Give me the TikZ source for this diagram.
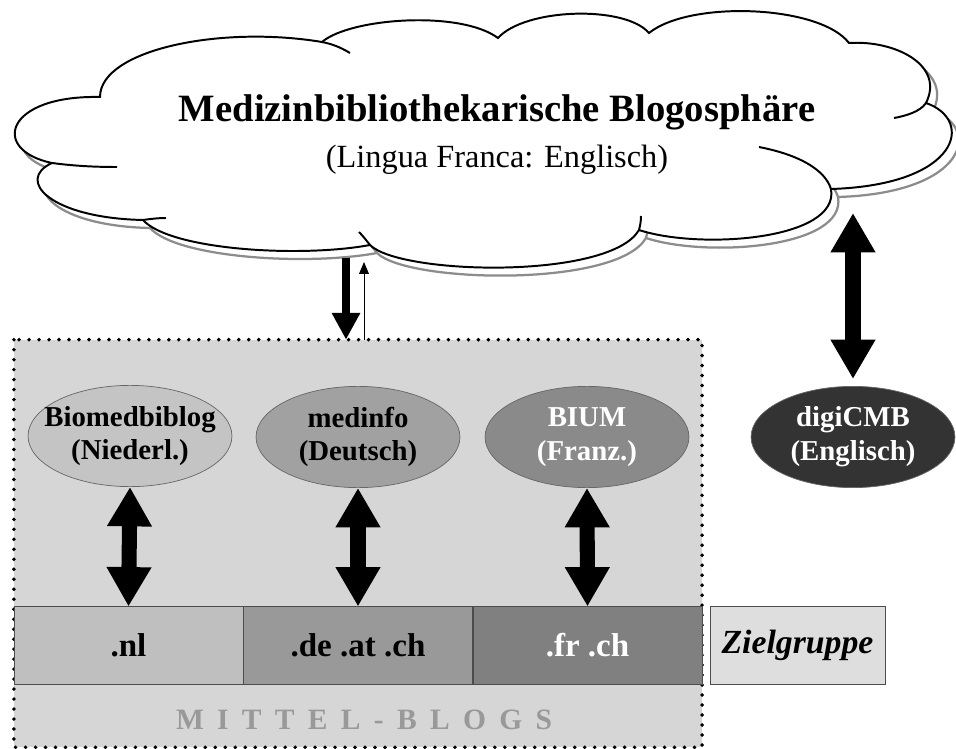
\documentclass[tikz,border=0pt]{standalone}
\usepackage{fontspec}
\setmainfont{Liberation Serif}
\usetikzlibrary{shapes.geometric, arrows.meta, positioning}

% outline of the cloud (px coordinates)
\def\cloudouter{(100,97) .. controls (100,50) and (220,25) .. (322,42)
  .. controls (350,18) and (460,10) .. (498,38)
  .. controls (525,8) and (625,5) .. (649,33)
  .. controls (690,0) and (820,5) .. (849,43)
  .. controls (895,40) and (945,65) .. (926,103)
  .. controls (975,120) and (960,185) .. (831,189)
  .. controls (840,240) and (700,250) .. (639,230)
  .. controls (610,280) and (400,275) .. (370,245)
  .. controls (300,258) and (170,250) .. (143,220)
  .. controls (50,218) and (15,180) .. (52,163)
  .. controls (-10,150) and (5,95) .. (100,97) -- cycle}
\def\cloudtails{(322,42) .. controls (332,44) and (340,47) .. (350,53)
  (926,103) .. controls (920,112) and (905,116) .. (894,118)
  (759,147) .. controls (800,155) and (825,170) .. (831,189)
  (641,216) .. controls (641,222) and (640,226) .. (639,230)
  (370,245) .. controls (366,240) and (363,236) .. (359,232)
  (143,220) .. controls (150,219) and (158,218) .. (166,218)
  (52,163) .. controls (75,166) and (95,167) .. (117,167)}

\tikzset{
  blog/.style={ellipse, draw=black!60, line width=0.5pt, minimum width=145pt, minimum height=72pt,
    inner xsep=-10pt, inner ysep=0pt, align=center, font=\fontsize{20.5}{24}\selectfont\bfseries},
  tld/.style={rectangle, draw=black!70, line width=0.5pt, minimum width=163pt, minimum height=55pt,
    inner sep=0pt, font=\fontsize{23.5}{28}\selectfont\bfseries},
  bigarrow/.style={line width=10.7pt, {Triangle[width=30pt,length=28pt]}-{Triangle[width=30pt,length=28pt]}},
}

\begin{document}
\begin{tikzpicture}[x=0.025cm, y=-0.025cm]
\useasboundingbox (0,0) rectangle (956,749);

% Blogosphere cloud with shadow
\begin{scope}[shift={(7,8)}, draw=black!45, line width=1.6pt]
  \draw \cloudouter;
  \draw \cloudtails;
\end{scope}
\filldraw[fill=white, line width=1.4pt] \cloudouter;
\draw[line width=1.4pt] \cloudtails;
\node[font=\fontsize{27.5}{32}\selectfont\bfseries] (title) at (497,112) {Medizinbibliothekarische Blogosphäre};
\node[font=\fontsize{23}{27}\selectfont] (lingua) at (497,160) {(Lingua Franca: Englisch)};

% Mittel-Blogs area
\node[rectangle, fill=black!16, minimum width=489pt, minimum height=289.5pt, inner sep=0pt] (mittel) at (358,543.5) {};
\draw[line width=2.8pt, line cap=round, dash pattern=on 0pt off 7.1pt]
  (mittel.north west) rectangle (mittel.south east);

% Blogs
\node[blog, fill=black!23] (bio) at (130,436) {Biomedbiblog\\(Niederl.)};
\node[blog, fill=black!37] (medinfo) at (358,437) {medinfo\\(Deutsch)};
\node[blog, fill=black!46, text=white] (bium) at (587,437) {BIUM\\(Franz.)};
\node[blog, fill=black!80, text=white] (digi) at (853,437) {digiCMB\\(Englisch)};

% Target groups
\node[tld, fill=black!25] (nl) at (128.5,645.5) {.nl};
\node[tld, fill=black!40] (de) at (358,645.5) {.de .at .ch};
\node[tld, fill=black!50, text=white] (fr) at (587.5,645.5) {.fr .ch};
\node[tld, fill=black!13, minimum width=124.5pt, font=\fontsize{24}{28}\selectfont\bfseries\itshape] (ziel) at (797.5,645.5) {Zielgruppe};

\node[text=black!40, font=\fontsize{21}{25}\selectfont\bfseries\addfontfeatures{LetterSpace=45}] (label) at (364,720) {MITTEL-BLOGS};

% Arrows
\foreach \b/\t in {bio/nl, medinfo/de, bium/fr}
  \draw[bigarrow] (\b.south) -- (\t.north);

\coordinate (cdown) at (346,258);
\coordinate (cup) at (364,262);
\coordinate (cright) at (853,213);
\draw[line width=5.7pt, -{Triangle[width=19pt,length=19pt]}] (cdown) -- (cdown |- mittel.north);
\draw[line width=0.7pt, -{Triangle[width=7pt,length=8.5pt]}] (cup |- mittel.north) -- (cup);
\draw[bigarrow, shorten >=5pt] (cright) -- (digi.north);
\end{tikzpicture}
\end{document}
